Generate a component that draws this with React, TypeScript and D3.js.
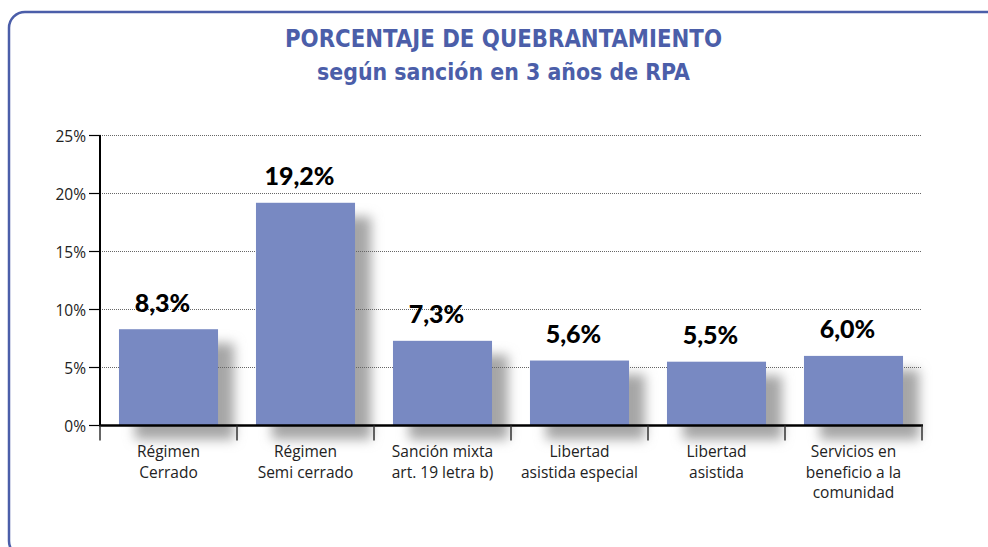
import React from "react";
import * as d3 from "d3";

const categories: string[][] = [
  ["Régimen", "Cerrado"],
  ["Régimen", "Semi cerrado"],
  ["Sanción mixta", "art. 19 letra b)"],
  ["Libertad", "asistida especial"],
  ["Libertad", "asistida"],
  ["Servicios en", "beneficio a la", "comunidad"],
];
const values: number[] = [8.3, 19.2, 7.3, 5.6, 5.5, 6.0];
const valueLabels: string[] = ["8,3%", "19,2%", "7,3%", "5,6%", "5,5%", "6,0%"];
const yTicks: number[] = [0, 5, 10, 15, 20, 25];
const titleLine1 = "PORCENTAJE DE QUEBRANTAMIENTO";
const titleLine2 = "según sanción en 3 años de RPA";

const W = 988;
const H = 547;
const left = 100;
const right = 922;
const top = 135.5;
const bottom = 425.5;

const BLUE = "#4b5ea9";
const BAR = "#7889c2";
const FONT = "'Open Sans', 'Noto Sans', Lato, sans-serif";

export default function App() {
  const keys = categories.map((c, i) => String(i));
  const x = d3
    .scaleBand<string>()
    .domain(keys)
    .range([left, right])
    .paddingInner(0.277)
    .paddingOuter(0.1385);
  const y = d3.scaleLinear().domain([0, 25]).range([bottom, top]);
  const step = x.step();
  const boundaries = d3.range(categories.length + 1).map((i) => left + i * step);

  return (
    <svg
      width={W}
      height={H}
      style={{ position: "absolute", left: 0, top: 0, background: "#fff" }}
    >
      <defs>
        <filter id="blur" x="-50%" y="-50%" width="200%" height="200%">
          <feGaussianBlur stdDeviation="6" />
        </filter>
      </defs>
      {/* frame */}
      <rect
        x={9}
        y={12}
        width={1000}
        height={545}
        rx={16}
        ry={16}
        fill="none"
        stroke={BLUE}
        strokeWidth={2.5}
      />
      {/* title */}
      <text
        x={503.5}
        y={47}
        textAnchor="middle"
        fill={BLUE}
        fontFamily="'Liberation Sans Narrow', 'DejaVu Sans Condensed', 'Open Sans', sans-serif"
        fontWeight="bold"
        fontSize={24}
        textLength={437}
        lengthAdjust="spacingAndGlyphs"
      >
        {titleLine1}
      </text>
      <text
        x={503.5}
        y={80}
        textAnchor="middle"
        fill={BLUE}
        fontFamily="'Liberation Sans Narrow', 'DejaVu Sans Condensed', 'Open Sans', sans-serif"
        fontWeight="bold"
        fontSize={23}
        textLength={373}
        lengthAdjust="spacingAndGlyphs"
      >
        {titleLine2}
      </text>

      {/* shadows */}
      <g filter="url(#blur)">
        {values.map((v, i) => (
          <rect
            key={"s" + i}
            x={(x(keys[i]) as number) + 16}
            y={y(v) + 14}
            width={x.bandwidth()}
            height={bottom - y(v)}
            fill="#a6a6a6"
          />
        ))}
      </g>

      {/* gridlines */}
      {yTicks
        .filter((t) => t > 0)
        .map((t) => (
          <line
            key={"g" + t}
            x1={left}
            x2={right}
            y1={y(t)}
            y2={y(t)}
            stroke="#666"
            strokeWidth={1}
            strokeDasharray="1,1"
          />
        ))}

      {/* bars */}
      {values.map((v, i) => (
        <rect
          key={"b" + i}
          x={x(keys[i])}
          y={y(v)}
          width={x.bandwidth()}
          height={bottom - y(v)}
          fill={BAR}
        />
      ))}

      {/* y axis */}
      <line x1={left} x2={left} y1={top} y2={bottom} stroke="#000" strokeWidth={2} />
      {yTicks.map((t) => (
        <g key={"yt" + t}>
          <line x1={left - 11} x2={left + 1} y1={y(t)} y2={y(t)} stroke="#000" strokeWidth={1.2} />
          <text
            x={left - 14}
            y={y(t) + 6}
            textAnchor="end"
            fontFamily={FONT}
            fontSize={15.5}
            fill="#222"
          >
            {t + "%"}
          </text>
        </g>
      ))}

      {/* x axis */}
      <line x1={left - 1} x2={right + 1} y1={bottom} y2={bottom} stroke="#000" strokeWidth={2.5} />
      {boundaries.map((b, i) => (
        <line
          key={"xt" + i}
          x1={b}
          x2={b}
          y1={bottom}
          y2={bottom + 15}
          stroke="#333"
          strokeWidth={1.5}
        />
      ))}

      {/* category labels */}
      {categories.map((lines, i) => (
        <text
          key={"c" + i}
          textAnchor="middle"
          fontFamily={FONT}
          fontSize={15.5}
          fill="#222"
        >
          {lines.map((ln, j) => (
            <tspan
              key={j}
              x={(x(keys[i]) as number) + x.bandwidth() / 2}
              y={457 + j * 20.5}
            >
              {ln}
            </tspan>
          ))}
        </text>
      ))}

      {/* value labels */}
      {values.map((v, i) => (
        <text
          key={"v" + i}
          x={(x(keys[i]) as number) + x.bandwidth() / 2 - 6}
          y={y(v) - 17.5}
          textAnchor="middle"
          fontFamily="Lato, 'Open Sans', sans-serif"
          fontWeight={900}
          fontSize={25}
          fill="#000"
        >
          {valueLabels[i]}
        </text>
      ))}
    </svg>
  );
}
